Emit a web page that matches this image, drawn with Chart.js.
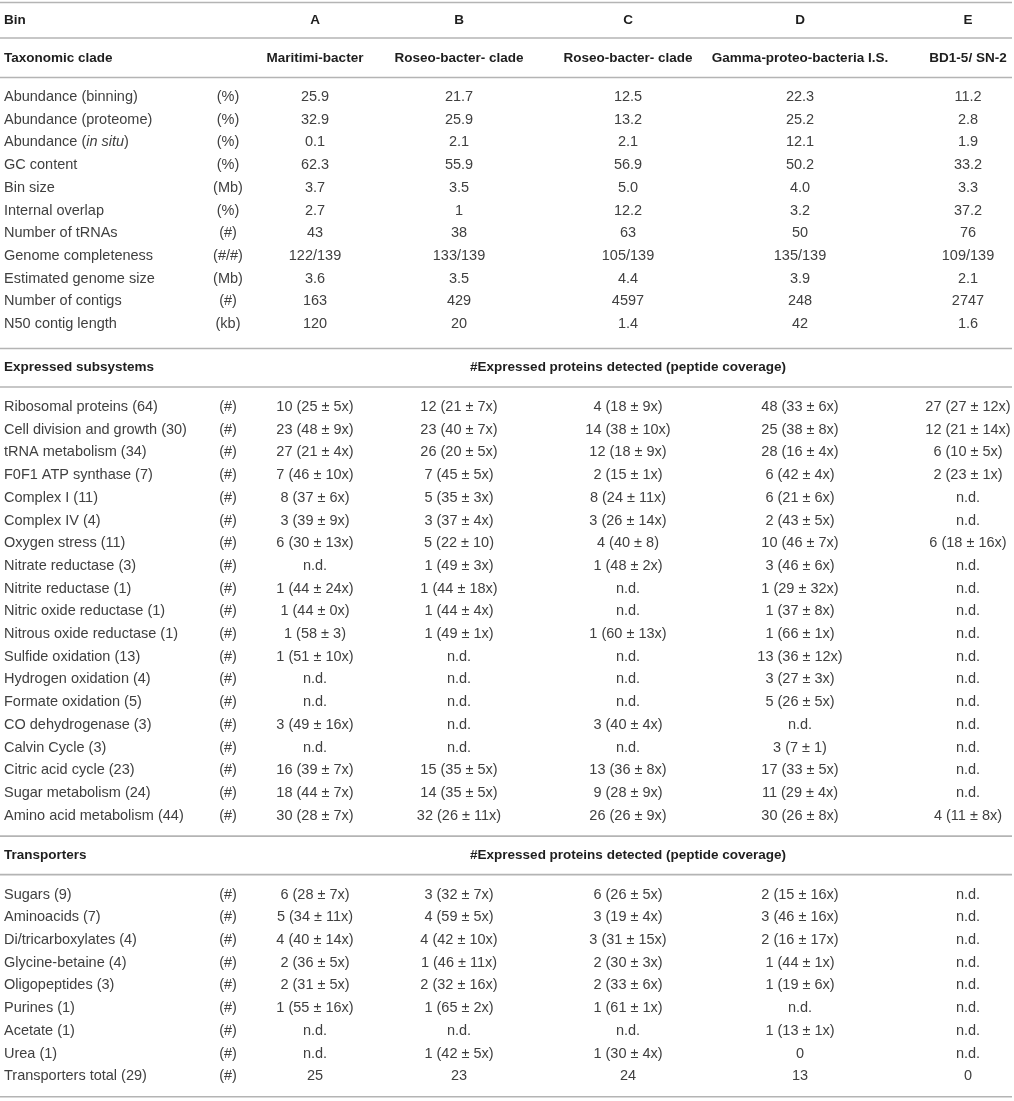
<!DOCTYPE html>
<html>
<head>
<meta charset="utf-8">
<title>Bin table</title>
<script src="https://cdn.jsdelivr.net/npm/chart.js@4.4.1/dist/chart.umd.min.js"></script>
<style>
  body { margin: 0; background: #fff; }
  #wrap { width: 1014px; height: 1101px; }
</style>
</head>
<body>
<div id="wrap"><canvas id="table" width="1014" height="1101"></canvas></div>
<script>
// ---- data ----
const binNames = ["A", "B", "C", "D", "E"];
const cladeNames = ["Maritimi-bacter", "Roseo-bacter- clade", "Roseo-bacter- clade", "Gamma-proteo-bacteria I.S.", "BD1-5/ SN-2"];

const genomeLabels = ["Abundance (binning)", "Abundance (proteome)", "Abundance (_in situ_)", "GC content", "Bin size",
  "Internal overlap", "Number of tRNAs", "Genome completeness", "Estimated genome size", "Number of contigs", "N50 contig length"];
const genomeUnits = ["(%)", "(%)", "(%)", "(%)", "(Mb)", "(%)", "(#)", "(#/#)", "(Mb)", "(#)", "(kb)"];
const genomeA = ["25.9", "32.9", "0.1", "62.3", "3.7", "2.7", "43", "122/139", "3.6", "163", "120"];
const genomeB = ["21.7", "25.9", "2.1", "55.9", "3.5", "1", "38", "133/139", "3.5", "429", "20"];
const genomeC = ["12.5", "13.2", "2.1", "56.9", "5.0", "12.2", "63", "105/139", "4.4", "4597", "1.4"];
const genomeD = ["22.3", "25.2", "12.1", "50.2", "4.0", "3.2", "50", "135/139", "3.9", "248", "42"];
const genomeE = ["11.2", "2.8", "1.9", "33.2", "3.3", "37.2", "76", "109/139", "2.1", "2747", "1.6"];

const subsystemLabels = ["Ribosomal proteins (64)", "Cell division and growth (30)", "tRNA metabolism (34)", "F0F1 ATP synthase (7)",
  "Complex I (11)", "Complex IV (4)", "Oxygen stress (11)", "Nitrate reductase (3)", "Nitrite reductase (1)",
  "Nitric oxide reductase (1)", "Nitrous oxide reductase (1)", "Sulfide oxidation (13)", "Hydrogen oxidation (4)",
  "Formate oxidation (5)", "CO dehydrogenase (3)", "Calvin Cycle (3)", "Citric acid cycle (23)", "Sugar metabolism (24)",
  "Amino acid metabolism (44)"];
const subsystemA = ["10 (25 ± 5x)", "23 (48 ± 9x)", "27 (21 ± 4x)", "7 (46 ± 10x)", "8 (37 ± 6x)", "3 (39 ± 9x)", "6 (30 ± 13x)",
  "n.d.", "1 (44 ± 24x)", "1 (44 ± 0x)", "1 (58 ± 3)", "1 (51 ± 10x)", "n.d.", "n.d.", "3 (49 ± 16x)", "n.d.",
  "16 (39 ± 7x)", "18 (44 ± 7x)", "30 (28 ± 7x)"];
const subsystemB = ["12 (21 ± 7x)", "23 (40 ± 7x)", "26 (20 ± 5x)", "7 (45 ± 5x)", "5 (35 ± 3x)", "3 (37 ± 4x)", "5 (22 ± 10)",
  "1 (49 ± 3x)", "1 (44 ± 18x)", "1 (44 ± 4x)", "1 (49 ± 1x)", "n.d.", "n.d.", "n.d.", "n.d.", "n.d.",
  "15 (35 ± 5x)", "14 (35 ± 5x)", "32 (26 ± 11x)"];
const subsystemC = ["4 (18 ± 9x)", "14 (38 ± 10x)", "12 (18 ± 9x)", "2 (15 ± 1x)", "8 (24 ± 11x)", "3 (26 ± 14x)", "4 (40 ± 8)",
  "1 (48 ± 2x)", "n.d.", "n.d.", "1 (60 ± 13x)", "n.d.", "n.d.", "n.d.", "3 (40 ± 4x)", "n.d.",
  "13 (36 ± 8x)", "9 (28 ± 9x)", "26 (26 ± 9x)"];
const subsystemD = ["48 (33 ± 6x)", "25 (38 ± 8x)", "28 (16 ± 4x)", "6 (42 ± 4x)", "6 (21 ± 6x)", "2 (43 ± 5x)", "10 (46 ± 7x)",
  "3 (46 ± 6x)", "1 (29 ± 32x)", "1 (37 ± 8x)", "1 (66 ± 1x)", "13 (36 ± 12x)", "3 (27 ± 3x)", "5 (26 ± 5x)", "n.d.",
  "3 (7 ± 1)", "17 (33 ± 5x)", "11 (29 ± 4x)", "30 (26 ± 8x)"];
const subsystemE = ["27 (27 ± 12x)", "12 (21 ± 14x)", "6 (10 ± 5x)", "2 (23 ± 1x)", "n.d.", "n.d.", "6 (18 ± 16x)",
  "n.d.", "n.d.", "n.d.", "n.d.", "n.d.", "n.d.", "n.d.", "n.d.", "n.d.", "n.d.", "n.d.", "4 (11 ± 8x)"];

const transporterLabels = ["Sugars (9)", "Aminoacids (7)", "Di/tricarboxylates (4)", "Glycine-betaine (4)", "Oligopeptides (3)",
  "Purines (1)", "Acetate (1)", "Urea (1)", "Transporters total (29)"];
const transporterA = ["6 (28 ± 7x)", "5 (34 ± 11x)", "4 (40 ± 14x)", "2 (36 ± 5x)", "2 (31 ± 5x)", "1 (55 ± 16x)", "n.d.", "n.d.", "25"];
const transporterB = ["3 (32 ± 7x)", "4 (59 ± 5x)", "4 (42 ± 10x)", "1 (46 ± 11x)", "2 (32 ± 16x)", "1 (65 ± 2x)", "n.d.", "1 (42 ± 5x)", "23"];
const transporterC = ["6 (26 ± 5x)", "3 (19 ± 4x)", "3 (31 ± 15x)", "2 (30 ± 3x)", "2 (33 ± 6x)", "1 (61 ± 1x)", "n.d.", "1 (30 ± 4x)", "24"];
const transporterD = ["2 (15 ± 16x)", "3 (46 ± 16x)", "2 (16 ± 17x)", "1 (44 ± 1x)", "1 (19 ± 6x)", "n.d.", "1 (13 ± 1x)", "0", "13"];
const transporterE = ["n.d.", "n.d.", "n.d.", "n.d.", "n.d.", "n.d.", "n.d.", "n.d.", "0"];

const sectionTitles = ["Expressed subsystems", "Transporters"];
const sectionNote = "#Expressed proteins detected (peptide coverage)";

// ---- layout (in px of the 1014 x 1101 table) ----
const W = 1014, H = 1101;
const labelX = 4, unitX = 228;
const colX = [315, 459, 628, 800, 968];
const ROW = 22.7;
const FONT = '"Liberation Sans", Arial, sans-serif';
const BODY_SIZE = "14.5px ", HEAD_SIZE = "13.5px ";
const TEXT = "#404040", HEAD = "#1e1e1e", RULE = "#b4b4b4";

const layout = [];
let cy = 2.5;
layout.push({ kind: "rule", y: cy });
cy += 17.5;
layout.push({ kind: "head", y: cy, label: "Bin", cells: binNames });
cy += 18;
layout.push({ kind: "rule", y: cy });
cy += 20;
layout.push({ kind: "head", y: cy, label: "Taxonomic clade", cells: cladeNames });
cy += 19.5;
layout.push({ kind: "rule", y: cy });
cy += 19.5;

function addBlock(labels, units, cols, gapAfter) {
  labels.forEach((lab, i) => {
    layout.push({ kind: "row", y: cy, label: lab, unit: units[i], cells: cols.map(c => c[i]) });
    if (i < labels.length - 1) cy += ROW;
  });
  cy += gapAfter;
  layout.push({ kind: "rule", y: cy });
}

function addSection(title, labels, cols) {
  cy += 19;
  layout.push({ kind: "section", y: cy, label: title, note: sectionNote });
  cy += 19.5;
  layout.push({ kind: "rule", y: cy });
  cy += 20;
  addBlock(labels, labels.map(() => "(#)"), cols, 20.5);
}

addBlock(genomeLabels, genomeUnits, [genomeA, genomeB, genomeC, genomeD, genomeE], 24.5);
addSection(sectionTitles[0], subsystemLabels, [subsystemA, subsystemB, subsystemC, subsystemD, subsystemE]);
addSection(sectionTitles[1], transporterLabels, [transporterA, transporterB, transporterC, transporterD, transporterE]);

// label text with _italic_ parts
function drawRich(ctx, text, x, y) {
  const parts = text.split("_");
  let px = x;
  parts.forEach((p, i) => {
    ctx.font = (i % 2 ? "italic " : "") + BODY_SIZE + FONT;
    ctx.fillText(p, px, y);
    px += ctx.measureText(p).width;
  });
}

const tablePlugin = {
  id: "tableCells",
  afterDraw(chart) {
    const ctx = chart.ctx;
    const xs = chart.scales.x, ys = chart.scales.y;
    ctx.save();
    ctx.textBaseline = "middle";
    layout.forEach(item => {
      const py = ys.getPixelForValue(item.y);
      if (item.kind === "rule") {
        ctx.strokeStyle = RULE;
        ctx.lineWidth = 1.6;
        ctx.beginPath();
        ctx.moveTo(xs.getPixelForValue(0), py);
        ctx.lineTo(xs.getPixelForValue(1012), py);
        ctx.stroke();
        return;
      }
      if (item.kind === "head" || item.kind === "section") {
        ctx.fillStyle = HEAD;
        ctx.font = "bold " + HEAD_SIZE + FONT;
        ctx.textAlign = "left";
        ctx.fillText(item.label, xs.getPixelForValue(labelX), py);
        ctx.textAlign = "center";
        if (item.kind === "head") {
          item.cells.forEach((c, i) => ctx.fillText(c, xs.getPixelForValue(colX[i]), py));
        } else {
          ctx.fillText(item.note, xs.getPixelForValue(colX[2]), py);
        }
        return;
      }
      ctx.fillStyle = TEXT;
      ctx.textAlign = "left";
      drawRich(ctx, item.label, xs.getPixelForValue(labelX), py);
      ctx.font = BODY_SIZE + FONT;
      ctx.textAlign = "center";
      ctx.fillText(item.unit, xs.getPixelForValue(unitX), py);
      item.cells.forEach((c, i) => ctx.fillText(c, xs.getPixelForValue(colX[i]), py));
    });
    ctx.restore();
  }
};

new Chart(document.getElementById("table"), {
  type: "scatter",
  data: { datasets: [{ data: [] }] },
  options: {
    responsive: false,
    animation: false,
    events: [],
    layout: { padding: 0 },
    plugins: { legend: { display: false }, tooltip: { enabled: false } },
    scales: {
      x: { type: "linear", min: 0, max: W, display: false },
      y: { type: "linear", min: 0, max: H, reverse: true, display: false }
    }
  },
  plugins: [tablePlugin]
});
</script>
</body>
</html>
